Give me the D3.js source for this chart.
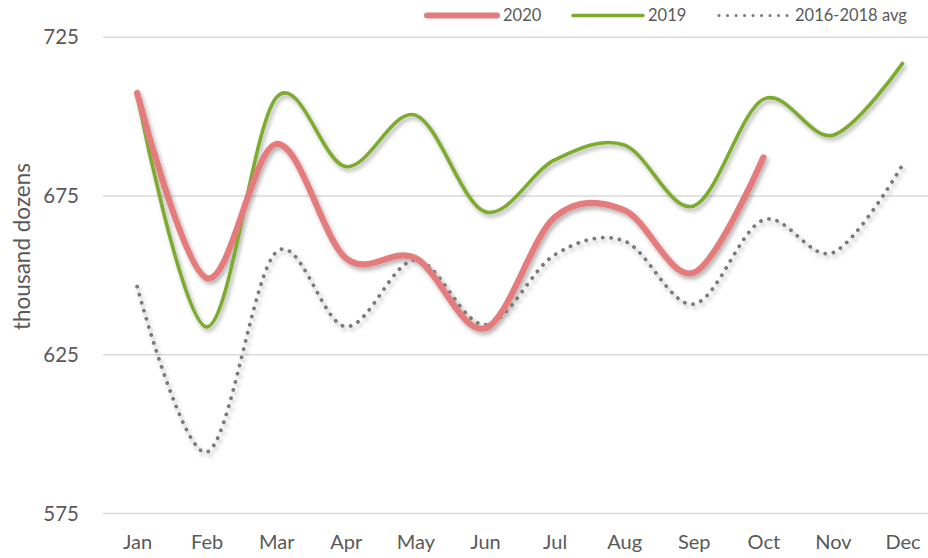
<!DOCTYPE html>
<html>
<head>
<meta charset="utf-8">
<script src="https://cdn.jsdelivr.net/npm/d3@7"></script>
<style>
  html, body { margin: 0; padding: 0; background: #fff; }
  svg { display: block; }
  text { font-family: Lato, "Open Sans", sans-serif; fill: #595959; }
</style>
</head>
<body>
<svg id="chart" width="928" height="558"></svg>
<script>
const months = ["Jan","Feb","Mar","Apr","May","Jun","Jul","Aug","Sep","Oct","Nov","Dec"];
const values2020 = [707.3, 649.0, 691.2, 655.3, 655.3, 633.2, 668.1, 670.4, 650.7, 687.0];
const values2019 = [706.6, 633.6, 705.8, 684.1, 700.3, 669.9, 686.2, 690.9, 671.7, 705.3, 694.0, 716.6];
const valuesAvg  = [646.3, 594.2, 657.2, 633.7, 654.7, 634.3, 656.3, 660.7, 640.8, 667.3, 657.0, 684.6];
const yTicks = [575, 625, 675, 725];
const seriesNames = ["2020", "2019", "2016-2018 avg"];

const svg = d3.select("#chart");
const W = 928, H = 558;

const x = d3.scalePoint().domain(months).range([102.3, 937.3]).padding(0.5);
const y = d3.scaleLinear().domain([575, 725]).range([513.1, 36.7]);

// shadow filter
const defs = svg.append("defs");
const f = defs.append("filter").attr("id", "shadow")
  .attr("x", "-10%").attr("y", "-10%").attr("width", "130%").attr("height", "130%");
f.append("feDropShadow").attr("dx", 2).attr("dy", 3).attr("stdDeviation", 2.2)
  .attr("flood-color", "#000").attr("flood-opacity", 0.3);

// gridlines + y labels
const yAxis = d3.axisLeft(y).tickValues(yTicks).tickSize(-(W - 103)).tickFormat(d3.format("d"));
const gy = svg.append("g").attr("transform", "translate(103,0)").call(yAxis);
gy.select(".domain").remove();
gy.selectAll(".tick line").attr("stroke", "#d9d9d9").attr("stroke-width", 1.5);
gy.selectAll(".tick text").attr("x", -24).attr("dy", "0.35em")
  .style("font-size", "20.5px").style("fill", "#595959");

// x labels
const xAxis = d3.axisBottom(x).tickSize(0);
const gx = svg.append("g").attr("transform", "translate(0,528)").call(xAxis);
gx.select(".domain").remove();
gx.selectAll(".tick text").attr("y", 7).attr("dy", "0.71em")
  .style("font-size", "20px").style("fill", "#595959");

// y title
svg.append("text")
  .attr("transform", "translate(29.5,246.5) rotate(-90)")
  .attr("text-anchor", "middle")
  .style("font-size", "22.5px")
  .text("thousand dozens");

const line = d3.line()
  .x((d, i) => x(months[i]))
  .y(d => y(d))
  .curve(d3.curveCatmullRom.alpha(0));

const g = svg.append("g").attr("filter", "url(#shadow)");

g.append("path").datum(valuesAvg)
  .attr("d", line).attr("fill", "none")
  .attr("stroke", "#7a7a7a").attr("stroke-width", 3.8)
  .attr("stroke-linecap", "round").attr("stroke-dasharray", "0.1 8.3");

g.append("path").datum(values2019)
  .attr("d", line).attr("fill", "none")
  .attr("stroke", "#7dab2e").attr("stroke-width", 3.6)
  .attr("stroke-linecap", "round");

g.append("path").datum(values2020)
  .attr("d", line).attr("fill", "none")
  .attr("stroke", "#e47b7d").attr("stroke-width", 6.2)
  .attr("stroke-linecap", "round");

// legend
const legend = svg.append("g");
const legItems = [
  {name: seriesNames[0], x1: 427, x2: 497, tx: 503, color: "#e47b7d", w: 6, dash: null},
  {name: seriesNames[1], x1: 573, x2: 643, tx: 648, color: "#7dab2e", w: 3.4, dash: null},
  {name: seriesNames[2], x1: 719, x2: 787, tx: 795, color: "#7a7a7a", w: 3, dash: "0.1 8.4"}
];
legItems.forEach(d => {
  const l = legend.append("line")
    .attr("x1", d.x1).attr("x2", d.x2).attr("y1", 15.5).attr("y2", 15.5)
    .attr("stroke", d.color).attr("stroke-width", d.w).attr("stroke-linecap", "round");
  if (d.dash) l.attr("stroke-dasharray", d.dash);
  legend.append("text").attr("x", d.tx).attr("y", 15.5).attr("dy", "0.35em")
    .style("font-size", "16.5px").text(d.name);
});
</script>
</body>
</html>
